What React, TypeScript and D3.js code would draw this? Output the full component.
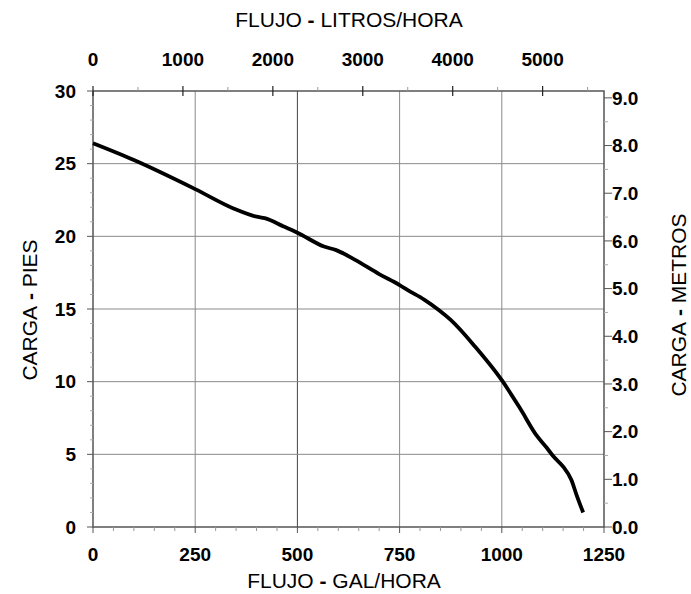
import React from 'react';
import * as d3 from 'd3';

// pump curve: flow (gal/h) vs head (ft)
const flowGal = [0, 100, 250, 345, 400, 420, 465, 500, 565, 595, 640, 700, 750, 770, 810, 845, 875, 935, 1000, 1045, 1085, 1110, 1125, 1150, 1170, 1183, 1199];
const headFt = [26.4, 25.25, 23.25, 21.9, 21.35, 21.25, 20.7, 20.25, 19.3, 19.05, 18.4, 17.4, 16.65, 16.3, 15.65, 14.95, 14.25, 12.4, 10.1, 8.15, 6.3, 5.45, 4.9, 4.15, 3.25, 2.2, 1.0];

const galTicks = [0, 250, 500, 750, 1000, 1250];
const litreTicks = [0, 1000, 2000, 3000, 4000, 5000];
const ftTicks = [0, 5, 10, 15, 20, 25, 30];
const mTicks = [0, 1, 2, 3, 4, 5, 6, 7, 8, 9];

const W = 691;
const H = 594;
const m = { left: 93, right: 604, top: 91, bottom: 527 };
const LPG = 4.546; // litres per (imperial) gallon
const MPF = 0.3048;

const font = "'Liberation Sans', Arial, sans-serif";

const App: React.FC = () => {
  const x = d3.scaleLinear().domain([0, 1250]).range([m.left, m.right]);
  const xL = d3.scaleLinear().domain([0, 1250 * LPG]).range([m.left, m.right]);
  const y = d3.scaleLinear().domain([0, 30]).range([m.bottom, m.top]);
  const yM = d3.scaleLinear().domain([0, 30 * MPF]).range([m.bottom, m.top]);

  const pts = flowGal.map((f, i) => [f, headFt[i]] as [number, number]);
  const line = d3.line<[number, number]>()
    .x(d => x(d[0]))
    .y(d => y(d[1]))
    .curve(d3.curveMonotoneX);

  const minorGal = d3.range(0, 1251, 50).filter(v => v % 250 !== 0);
  const minorFt = d3.range(0, 31, 1).filter(v => v % 5 !== 0);
  const minorL = d3.range(500, 5700, 1000);
  const minorM = d3.range(0.5, 9.1, 1);

  const grid = '#8a8a8a';
  const axisCol = '#555';
  const tickFont = { fontFamily: font, fontWeight: 'bold' as const, fontSize: 19 };

  return (
    <svg width={W} height={H} style={{ position: 'absolute', left: 0, top: 0, background: '#fff' }}>
      <rect x={0} y={0} width={W} height={H} fill="#fff" />

      {/* grid */}
      {galTicks.slice(1, -1).map(v => (
        <line key={'gx' + v} x1={x(v)} x2={x(v)} y1={m.top} y2={m.bottom}
          stroke={v === 500 ? '#444' : grid} strokeWidth={1} />
      ))}
      {ftTicks.slice(1, -1).map(v => (
        <line key={'gy' + v} x1={m.left} x2={m.right} y1={y(v)} y2={y(v)} stroke={grid} strokeWidth={1} />
      ))}

      {/* frame */}
      <rect x={m.left} y={m.top} width={m.right - m.left} height={m.bottom - m.top}
        fill="none" stroke={axisCol} strokeWidth={1.5} />

      {/* bottom ticks */}
      {galTicks.map(v => (
        <line key={'bt' + v} x1={x(v)} x2={x(v)} y1={m.bottom} y2={m.bottom + 6} stroke={axisCol} />
      ))}
      {minorGal.map(v => (
        <line key={'bm' + v} x1={x(v)} x2={x(v)} y1={m.bottom} y2={m.bottom + 4} stroke="#999" />
      ))}
      {galTicks.map(v => (
        <text key={'bl' + v} x={x(v)} y={561} textAnchor="middle" {...tickFont}>{v}</text>
      ))}

      {/* top ticks */}
      {litreTicks.map(v => (
        <line key={'tt' + v} x1={xL(v)} x2={xL(v)} y1={m.top - 5} y2={m.top + 5} stroke="#222" strokeWidth={1.2} />
      ))}
      {minorL.map(v => (
        <line key={'tm' + v} x1={xL(v)} x2={xL(v)} y1={m.top - 4} y2={m.top} stroke="#999" />
      ))}
      {litreTicks.map(v => (
        <text key={'tl' + v} x={xL(v)} y={66} textAnchor="middle" {...tickFont}>{v}</text>
      ))}

      {/* left ticks */}
      {ftTicks.map(v => (
        <line key={'lt' + v} x1={m.left - 6} x2={m.left} y1={y(v)} y2={y(v)} stroke={axisCol} />
      ))}
      {minorFt.map(v => (
        <line key={'lm' + v} x1={m.left - 3} x2={m.left} y1={y(v)} y2={y(v)} stroke="#aaa" />
      ))}
      {ftTicks.map(v => (
        <text key={'ll' + v} x={76} y={y(v)} dy="0.35em" textAnchor="end" {...tickFont}>{v}</text>
      ))}

      {/* right ticks */}
      {mTicks.map(v => (
        <line key={'rt' + v} x1={m.right} x2={m.right + 8} y1={yM(v)} y2={yM(v)} stroke={axisCol} />
      ))}
      {minorM.map(v => (
        <line key={'rm' + v} x1={m.right} x2={m.right + 4} y1={yM(v)} y2={yM(v)} stroke="#aaa" />
      ))}
      {mTicks.map(v => (
        <text key={'rl' + v} x={612} y={yM(v)} dy="0.35em" textAnchor="start" {...tickFont}>{v.toFixed(1)}</text>
      ))}

      {/* curve */}
      <path d={line(pts) || ''} fill="none" stroke="#000" strokeWidth={3.8}
        strokeLinejoin="round" strokeLinecap="butt" />

      {/* titles */}
      <text x={349} y={27} textAnchor="middle" fontFamily={font} fontSize={21}>
        FLUJO<tspan fontWeight="bold"> - </tspan>LITROS/HORA
      </text>
      <text x={344} y={588} textAnchor="middle" fontFamily={font} fontSize={21}>
        FLUJO<tspan fontWeight="bold"> - </tspan>GAL/HORA
      </text>
      <text transform="translate(37,310) rotate(-90)" textAnchor="middle" fontFamily={font} fontSize={21}>
        CARGA<tspan fontWeight="bold"> - </tspan>PIES
      </text>
      <text transform="translate(686,305) rotate(-90)" textAnchor="middle" fontFamily={font} fontSize={21}>
        CARGA<tspan fontWeight="bold"> - </tspan>METROS
      </text>
    </svg>
  );
};

export default App;
